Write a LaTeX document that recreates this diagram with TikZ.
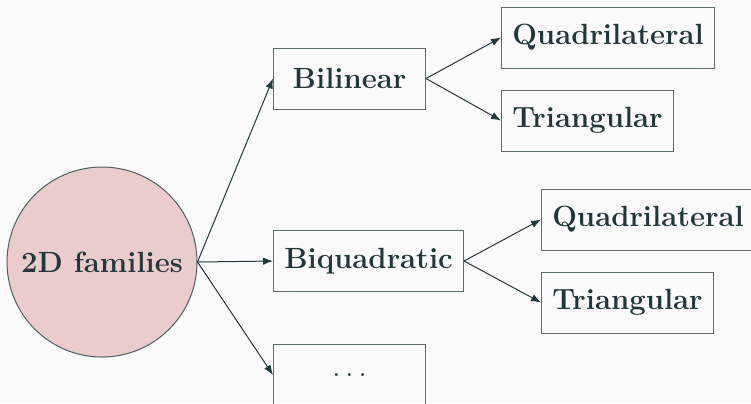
\documentclass[tikz,border=0pt]{standalone}
\usetikzlibrary{arrows.meta}
\definecolor{tealdark}{HTML}{23373B}
\definecolor{slidebg}{HTML}{FAFAFA}
\definecolor{pinkfill}{RGB}{235,204,204}
\definecolor{boxline}{HTML}{5E6C6E}

\begin{document}
\begin{tikzpicture}[x=0.4pt,y=-0.4pt,>={Latex[length=4pt,width=3pt]},
    family/.style={circle,draw=tealdark!80,fill=pinkfill,line width=0.4pt,
        minimum size=76pt,inner sep=0pt,text=tealdark,
        font=\fontsize{11.7}{14}\selectfont\bfseries},
    kind/.style={rectangle,draw=boxline,line width=0.4pt,anchor=west,
        minimum width=60.8pt,minimum height=24.4pt,inner sep=4.3pt,
        text=tealdark,font=\fontsize{11.7}{14}\selectfont\bfseries},
    link/.style={->,draw=tealdark,line width=0.4pt}]
    % background of the slide
    \fill[slidebg] (0,0) rectangle (751,403);
    \useasboundingbox (0,0) rectangle (751,403);

    % the root
    \node[family] (fam) at (102,262) {2D families};

    % first level
    \node[kind] (bilin)  at (273,78.5) {Bilinear};
    \node[kind] (biquad) at (273,261)  {Biquadratic};
    \node[kind] (more)   at (273,375)  {$\dots$};

    % second level
    \node[kind] (quadA) at (501,37.5)  {Quadrilateral};
    \node[kind] (triA)  at (501,120.5) {Triangular};
    \node[kind] (quadB) at (541,219.5) {Quadrilateral};
    \node[kind] (triB)  at (541,302.5) {Triangular};

    % connectors
    \draw[link] (fam.east) -- (bilin.west);
    \draw[link] (fam.east) -- (biquad.west);
    \draw[link] (fam.east) -- (more.west);
    \draw[link] (bilin.east) -- (quadA.west);
    \draw[link] (bilin.east) -- (triA.west);
    \draw[link] (biquad.east) -- (quadB.west);
    \draw[link] (biquad.east) -- (triB.west);
\end{tikzpicture}
\end{document}
